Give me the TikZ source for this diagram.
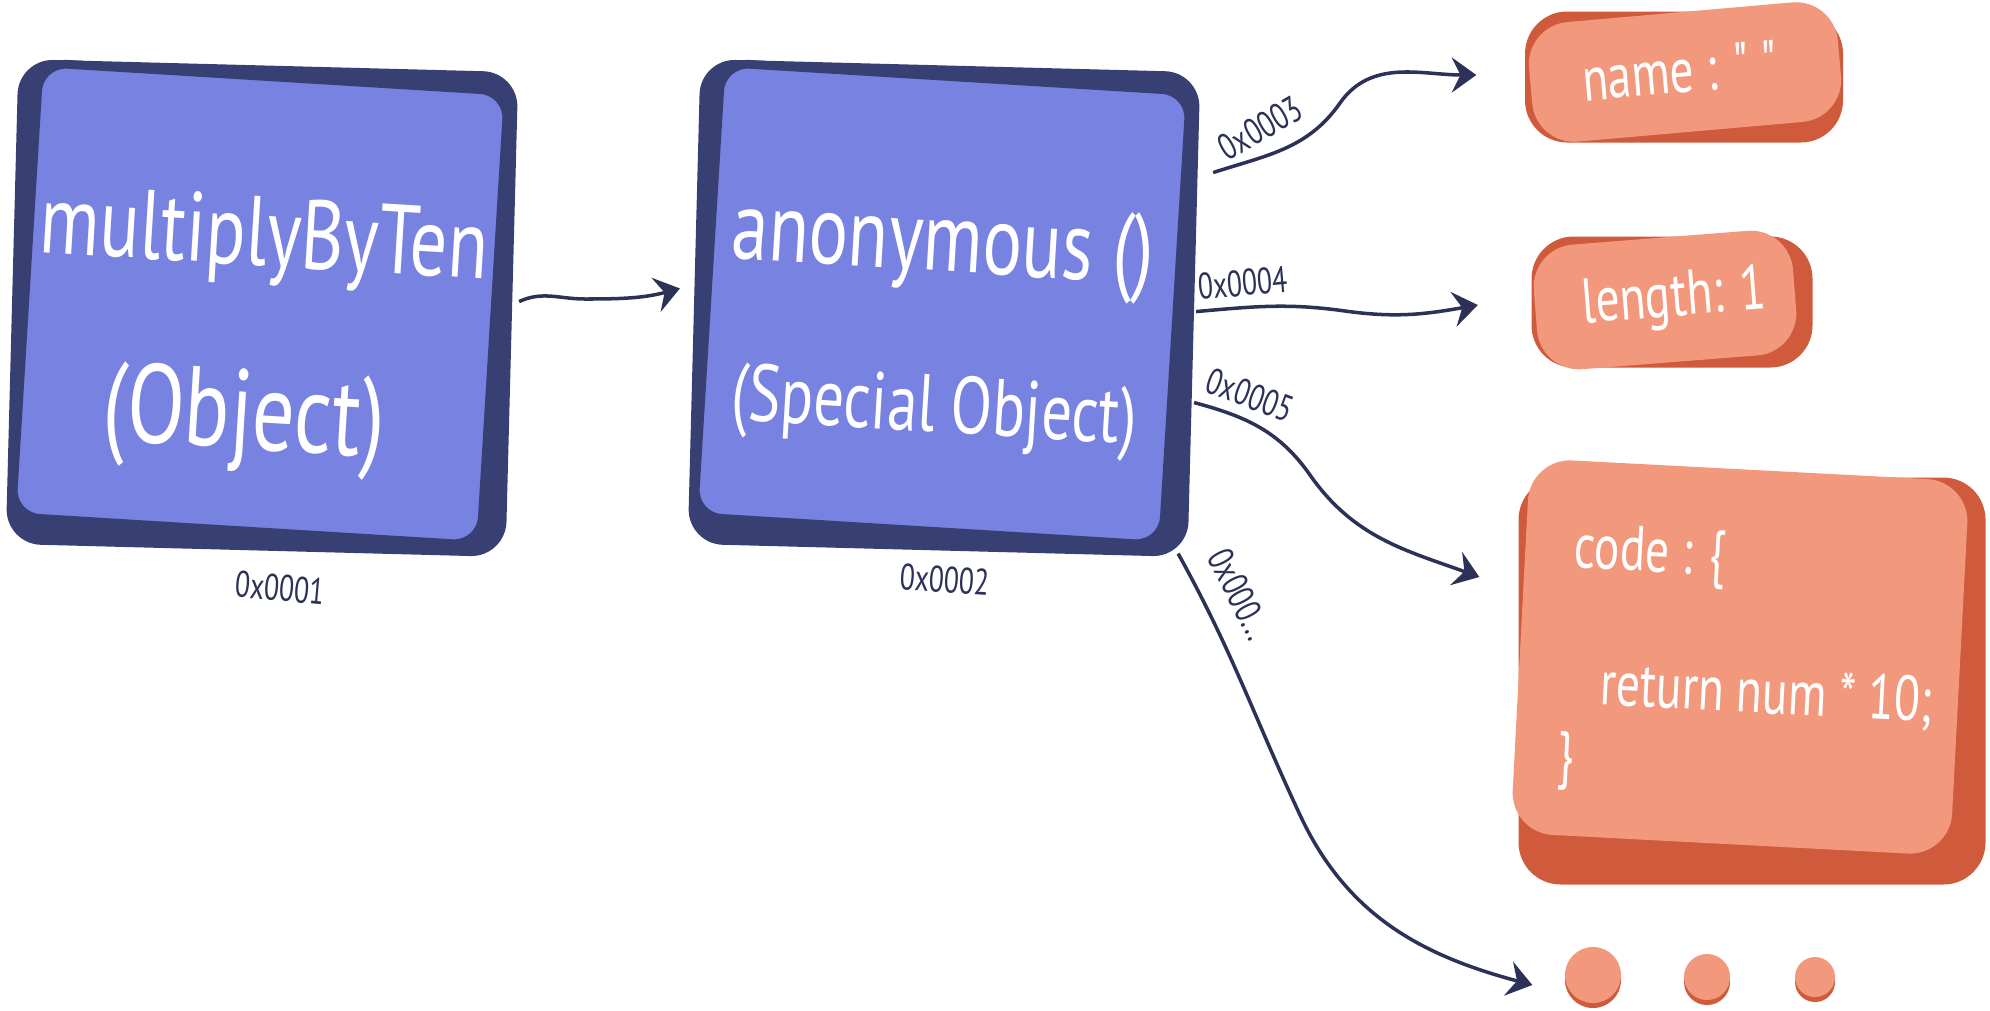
\documentclass[tikz,border=0pt]{standalone}
\usepackage{fontspec}
\newfontfamily\handfont[FakeStretch=0.75]{PT Sans}
\usetikzlibrary{arrows.meta}

\definecolor{navy}{HTML}{383F73}
\definecolor{cardblue}{HTML}{7782E1}
\definecolor{ink}{HTML}{2C3158}
\definecolor{peach}{HTML}{F2997D}
\definecolor{rust}{HTML}{CF5B3C}

\begin{document}
\begin{tikzpicture}[
    backcard/.style={rectangle, rounded corners=10pt, fill=navy, inner sep=0pt},
    bluecard/.style={rectangle, rounded corners=8pt, fill=cardblue, draw=navy, line width=2.5pt, inner sep=0pt},
    peachback/.style={rectangle, rounded corners=12pt, fill=rust, inner sep=0pt},
    peachcard/.style={rectangle, rounded corners=12pt, fill=peach, inner sep=0pt},
    dotback/.style={circle, fill=rust, inner sep=0pt},
    dotface/.style={circle, fill=peach, inner sep=0pt},
    bigtext/.style={text=white, font=\handfont\fontsize{28}{32}\selectfont},
    midtext/.style={text=white, font=\handfont\fontsize{23}{27}\selectfont},
    smalltext/.style={text=white, font=\handfont\fontsize{18}{22}\selectfont},
    addr/.style={text=ink, font=\handfont\fontsize{10.5}{12}\selectfont},
    link/.style={draw=ink, line width=1pt, -{Stealth[length=7pt,width=10pt,inset=2.5pt]}}
]
    \useasboundingbox (0,0) rectangle (19.9,-10.1);

    % multiplyByTen
    \node[backcard, minimum width=5.0cm, minimum height=4.85cm, rotate=-1.5] (funcback) at (2.62,-3.08) {};
    \node[bluecard, minimum width=4.7cm, minimum height=4.55cm, rotate=-3.5] (func) at (2.60,-3.04) {};
    \node[bigtext, rotate=-3.5] (funcname) at (2.64,-2.41) {multiplyByTen};
    \node[bigtext, font=\handfont\fontsize{32}{36}\selectfont, rotate=-3.5] (functype) at (2.44,-4.21) {(Object)};
    \node[addr, rotate=-5] (funcaddr) at (2.80,-5.88) {0x0001};

    % anonymous
    \node[backcard, minimum width=5.0cm, minimum height=4.85cm, rotate=-1.5] (anonback) at (9.44,-3.08) {};
    \node[bluecard, minimum width=4.7cm, minimum height=4.55cm, rotate=-3.5] (anon) at (9.42,-3.04) {};
    \node[bigtext, rotate=-3.5] (anonname) at (9.43,-2.47) {anonymous ()};
    \node[midtext, rotate=-3.5] (anontype) at (9.34,-4.12) {(Special Object)};
    \node[addr, rotate=-4] (anonaddr) at (9.45,-5.80) {0x0002};

    % name
    \node[peachback, minimum width=3.18cm, minimum height=1.31cm] (nameback) at (16.84,-0.77) {};
    \node[peachcard, minimum width=3.1cm, minimum height=1.2cm, rotate=5] (name) at (16.85,-0.72) {};
    \node[smalltext, rotate=5] (nametext) at (16.80,-0.71) {name : " "};

    % length
    \node[peachback, minimum width=2.81cm, minimum height=1.31cm] (lenback) at (16.72,-3.02) {};
    \node[peachcard, minimum width=2.6cm, minimum height=1.25cm, rotate=4.5] (len) at (16.65,-3.00) {};
    \node[smalltext, rotate=4.5] (lentext) at (16.74,-3.00) {length: 1};

    % code
    \node[peachback, minimum width=4.67cm, minimum height=4.07cm] (codeback) at (17.52,-6.81) {};
    \node[peachcard, minimum width=4.4cm, minimum height=3.75cm, rotate=-3] (code) at (17.40,-6.57) {};
    \node[smalltext, rotate=-3, anchor=west] (codeopen) at (15.62,-5.52) {code : \{};
    \node[smalltext, rotate=-3, anchor=west] (codebody) at (15.88,-6.86) {return num * 10;};
    \node[smalltext, rotate=-3, anchor=west] (codeclose) at (15.45,-7.60) {\}};

    % more
    \node[dotback, minimum size=0.56cm] (dotAback) at (15.93,-9.80) {};
    \node[dotface, minimum size=0.56cm] (dotA) at (15.93,-9.75) {};
    \node[dotback, minimum size=0.46cm] (dotBback) at (17.07,-9.82) {};
    \node[dotface, minimum size=0.46cm] (dotB) at (17.07,-9.77) {};
    \node[dotback, minimum size=0.40cm] (dotCback) at (18.15,-9.82) {};
    \node[dotface, minimum size=0.40cm] (dotC) at (18.15,-9.77) {};

    % ends of the connectors
    \coordinate (s1) at ([shift={(0.065,0.13)}]funcback.east);
    \coordinate (e1) at ([shift={(-0.135,0.13)}]anonback.west);
    \coordinate (s3) at ([shift={(0.185,1.42)}]anonback.east);
    \coordinate (e3) at ([shift={(-0.48,0.02)}]nameback.west);
    \coordinate (s4) at ([shift={(0.015,0.03)}]anonback.east);
    \coordinate (e4) at ([shift={(-0.53,-0.03)}]lenback.west);
    \coordinate (s5) at ([shift={(-0.005,-0.88)}]anonback.east);
    \coordinate (e5) at ([shift={(-0.385,1.04)}]codeback.west);
    \coordinate (s6) at ([shift={(-0.165,-2.39)}]anonback.east);
    \coordinate (e6) at ([shift={(-0.32,-0.05)}]dotAback.west);

    % connectors
    \draw[link] (s1) to[out=25,in=180] (5.85,-2.99) to[out=0,in=195] (e1);
    \draw[link] (s3) to[out=18,in=235] (13.40,-1.03) to[out=55,in=180] (e3);
    \draw[link] (s4) to[out=5,in=172] (13.45,-3.11) to[out=-8,in=190] (e4);
    \draw[link] (s5) to[out=-15,in=125] (13.10,-4.75) to[out=-55,in=160] (e5);
    \draw[link] (s6) to[out=-61,in=115] (13.00,-8.15) to[out=-65,in=165] (e6);

    % addresses
    \node[addr, rotate=30] (addrname) at (12.60,-1.28) {0x0003};
    \node[addr, rotate=5] (addrlen) at (12.43,-2.83) {0x0004};
    \node[addr, rotate=-20] (addrcode) at (12.50,-3.95) {0x0005};
    \node[addr, rotate=-63] (addrmore) at (12.40,-5.94) {0x000...};
\end{tikzpicture}
\end{document}
